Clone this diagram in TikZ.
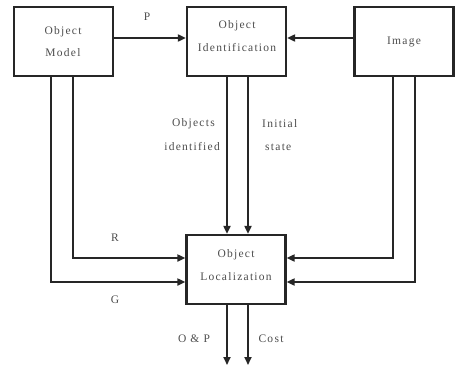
\documentclass[tikz,border=0pt]{standalone}
\usepackage{fontspec}
\setmainfont[LetterSpace=11]{Liberation Serif}
\usetikzlibrary{arrows.meta}
\begin{document}
\begin{tikzpicture}[x=1pt,y=-1pt,
  box/.style={draw=black!85,line width=2.2pt,minimum width=99pt,minimum height=69pt,inner sep=0pt},
  txt/.style={font=\fontsize{11.5}{13}\selectfont,text=black!70,inner sep=0pt},
  conn/.style={draw=black!85,line width=1.8pt,-{Triangle[length=8pt,width=7pt]}},
  plain/.style={draw=black!85,line width=1.8pt}]
\useasboundingbox (0,0) rectangle (457,367);
\node[box] (om) at (63.5,41.5) {};
\node[box] (oi) at (236.5,41.5) {};
\node[box] (im) at (404,41.5) {};
\node[box] (ol) at (236,269.5) {};
\node[txt] (omt1) at (63,32) {Object};
\node[txt] (omt2) at (63,53) {Model};
\node[txt] (oit1) at (237,26) {Object};
\node[txt] (oit2) at (237,48) {Identification};
\node[txt] (imt) at (404,42) {Image};
\node[txt] (olt1) at (236,255) {Object};
\node[txt] (olt2) at (236,277) {Localization};
% top arrows
\draw[conn] (om.east |- 0,38) -- (oi.west |- 0,38);
\draw[conn] (im.west |- 0,38) -- (oi.east |- 0,38);
\node[txt] (lp) at (147,17) {P};
% object model down
\coordinate (a1) at (73,258);
\coordinate (a2) at (51,282);
\draw[conn] (om.south -| a1) -- (a1) -- (ol.west |- a1);
\draw[conn] (om.south -| a2) -- (a2) -- (ol.west |- a2);
\node[txt] (lr) at (115,238) {R};
\node[txt] (lg) at (115,300) {G};
% image down
\coordinate (b1) at (393,258);
\coordinate (b2) at (415,282);
\draw[conn] (im.south -| b1) -- (b1) -- (ol.east |- b1);
\draw[conn] (im.south -| b2) -- (b2) -- (ol.east |- b2);
% id down
\coordinate (c1) at (227,0);
\coordinate (c2) at (248,0);
\draw[conn] (oi.south -| c1) -- (ol.north -| c1);
\draw[conn] (oi.south -| c2) -- (ol.north -| c2);
\node[txt,anchor=east] (lo1) at (215,124) {Objects};
\node[txt,anchor=east] (lo2) at (220,147) {identified};
\node[txt,anchor=west] (li1) at (262,124) {Initial};
\node[txt,anchor=west] (li2) at (265,147) {state};
% outputs
\coordinate (d1) at (227,365);
\coordinate (d2) at (248,365);
\draw[conn] (ol.south -| d1) -- (d1);
\draw[conn] (ol.south -| d2) -- (d2);
\node[txt] (lop) at (194,339) {O \& P};
\node[txt] (lc) at (271,339) {Cost};
\end{tikzpicture}
\end{document}
